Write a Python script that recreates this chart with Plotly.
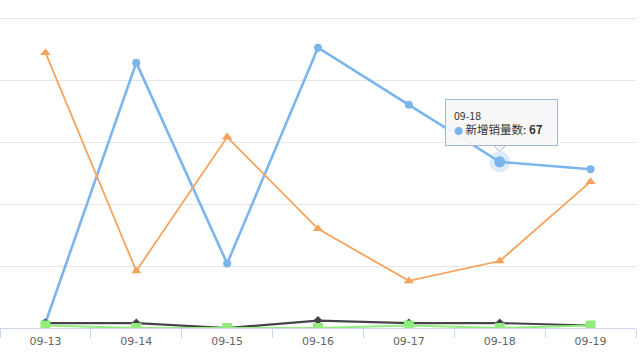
import plotly.graph_objects as go

dates = ["09-13", "09-14", "09-15", "09-16", "09-17", "09-18", "09-19"]
sales_new = [2, 107, 26, 113, 90, 67, 64]        # blue circles
series_orange = [111, 23, 77, 40, 19, 27, 59]    # orange triangles
series_black = [2, 2, 0, 3, 2, 2, 1]             # dark diamonds
series_green = [1, 0, 0, 0, 1, 0, 1]             # green squares
tip_index = 5
tip_name = "新增销量数"

Y_MAX = 132.26
PLOT_H = 328
px_per_unit = PLOT_H / Y_MAX

fig = go.Figure()
fig.add_trace(go.Scatter(x=dates, y=sales_new, mode="lines+markers",
                         line=dict(color="#7cb5ec", width=2.6),
                         marker=dict(symbol="circle", size=8, color="#7cb5ec")))
fig.add_trace(go.Scatter(x=dates, y=series_orange, mode="lines+markers",
                         line=dict(color="#f7a35c", width=1.8),
                         marker=dict(symbol="triangle-up", size=9, color="#f7a35c")))
fig.add_trace(go.Scatter(x=dates, y=series_black, mode="lines+markers",
                         line=dict(color="#434348", width=2.2),
                         marker=dict(symbol="diamond", size=7, color="#434348")))
fig.add_trace(go.Scatter(x=dates, y=series_green, mode="lines+markers",
                         line=dict(color="#90ed7d", width=2),
                         marker=dict(symbol="square", size=10, color="#90ed7d")))
# hover halo + enlarged point
fig.add_trace(go.Scatter(x=[dates[tip_index]], y=[sales_new[tip_index]], mode="markers",
                         marker=dict(symbol="circle", size=21, color="rgba(124,181,236,0.25)")))
fig.add_trace(go.Scatter(x=[dates[tip_index]], y=[sales_new[tip_index]], mode="markers",
                         marker=dict(symbol="circle", size=11, color="#7cb5ec")))

v = sales_new[tip_index]
base_y = v + 16.5 / px_per_unit
tip_y = v + 10 / px_per_unit
dx = 6 / 91
fig.add_shape(type="path", xref="x", yref="y",
              path=f"M {tip_index - dx} {base_y} L {tip_index} {tip_y} L {tip_index + dx} {base_y} Z",
              fillcolor="rgba(247,247,247,0.95)", line=dict(color="#9fb9d6", width=1), layer="above")

fig.add_annotation(x=dates[tip_index], y=v, xref="x", yref="y", showarrow=False,
                   yanchor="bottom", yshift=16, xshift=1.5,
                   width=95, height=29,
                   text=(f"<span style='font-size:10.5px'>{dates[tip_index]}</span><br>"
                         f"<span style='color:#7cb5ec;font-size:9px'>●</span> {tip_name}: <b>{v}</b>"),
                   align="left", valign="middle",
                   bgcolor="rgba(247,247,247,0.95)", bordercolor="#9fb9d6",
                   borderwidth=1, borderpad=8,
                   font=dict(family="Noto Sans CJK SC", size=11.5, color="#333333"))

fig.update_layout(
    width=640, height=360,
    margin=dict(l=0, r=4, t=0, b=32),
    paper_bgcolor="white", plot_bgcolor="white",
    showlegend=False, hovermode=False,
    xaxis=dict(type="category", range=[-0.5, 6.5], showgrid=False,
               showline=True, linecolor="#ccd6eb", linewidth=1,
               ticks="outside", tickson="boundaries", ticklen=9, tickcolor="#ccd6eb",
               ticklabelstandoff=3,
               tickfont=dict(family="DejaVu Sans", size=11, color="#666666"),
               fixedrange=True),
    yaxis=dict(range=[0, Y_MAX], tick0=0, dtick=25, showgrid=True, gridcolor="#e6e6e6",
               zeroline=False, showticklabels=False, fixedrange=True),
)

fig.write_html("out.html", config={"displayModeBar": False},
               post_script="document.body.style.margin='0';document.body.style.overflow='hidden';")
